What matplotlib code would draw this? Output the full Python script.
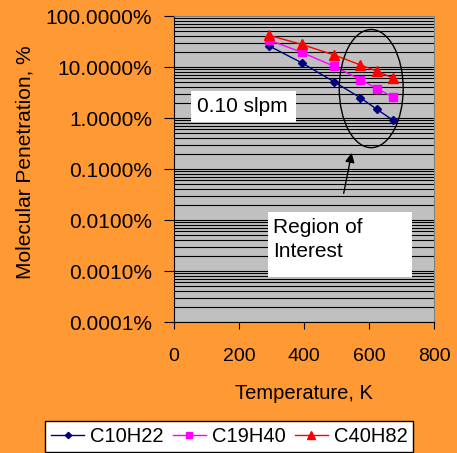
import matplotlib

matplotlib.use("Agg")
from matplotlib import pyplot as plt
from matplotlib.patches import Ellipse, Rectangle
from matplotlib.ticker import FuncFormatter, LogLocator, NullFormatter

plt.rcParams["font.family"] = ["Liberation Sans", "DejaVu Sans"]

# temperatures (K) and penetration (%)
temperature = [293, 393, 493, 573, 623, 673]
c10h22 = [25.8, 12.1, 5.1, 2.5, 1.5, 0.91]
c19h40 = [33.8, 19.4, 10.3, 5.7, 3.8, 2.6]
c40h82 = [41.8, 27.8, 17.2, 11.0, 8.4, 6.1]

series = [
    ("C10H22", c10h22, "#000080", "D", 4),
    ("C19H40", c19h40, "#FF00FF", "s", 6),
    ("C40H82", c40h82, "#FF0000", "^", 7),
]

orange = "#FF9933"
fig = plt.figure(figsize=(4.57, 4.53), dpi=100, facecolor=orange)
ax = fig.add_axes([0.381, 0.289, 0.569, 0.6755], facecolor="#C0C0C0")

for name, values, color, marker, size in series:
    ax.plot(
        temperature,
        [v / 100 for v in values],
        color=color,
        marker=marker,
        markersize=size,
        linewidth=1,
        label=name,
    )

ax.set_yscale("log")
ax.set_ylim(1e-6, 1)
ax.set_xlim(0, 800)
ax.set_xticks([0, 200, 400, 600, 800])
ax.yaxis.set_major_locator(LogLocator(base=10, numticks=10))
ax.yaxis.set_minor_locator(LogLocator(base=10, subs=range(2, 10), numticks=100))
ax.yaxis.set_minor_formatter(NullFormatter())
ax.yaxis.set_major_formatter(FuncFormatter(lambda v, _: f"{v * 100:.4f}%"))
ax.grid(axis="y", which="both", color="black", linewidth=0.8)
ax.set_axisbelow(True)

ax.tick_params(axis="y", which="major", direction="out", length=7, pad=9, labelsize=15)
ax.tick_params(axis="y", which="minor", length=0)
ax.tick_params(axis="x", direction="out", length=5, pad=14, labelsize=14)
for side in ["top", "right"]:
    ax.spines[side].set_color("#808080")

ax.set_xlabel("Temperature, K", fontsize=14.5, labelpad=13)
fig.text(0.055, 0.642, "Molecular Penetration, %", rotation=90,
         ha="center", va="center", fontsize=15)

# white label boxes
ax.add_patch(Rectangle((0.065, 0.654), 0.404, 0.101, transform=ax.transAxes,
                       facecolor="white", edgecolor="none", zorder=3))
ax.text(0.088, 0.704, "0.10 slpm", transform=ax.transAxes, fontsize=15,
        va="center", ha="left", zorder=4)
ax.add_patch(Rectangle((0.3615, 0.147), 0.554, 0.212, transform=ax.transAxes,
                       facecolor="white", edgecolor="none", zorder=3))
ax.text(0.381, 0.270, "Region of\nInterest", transform=ax.transAxes, fontsize=15,
        va="center", ha="left", linespacing=1.3, zorder=4)

ax.add_patch(Ellipse((0.758, 0.763), 0.246, 0.386, transform=ax.transAxes,
                     fill=False, edgecolor="black", linewidth=1, zorder=4))
ax.annotate("", xy=(0.685, 0.562), xytext=(0.650, 0.412),
            xycoords="axes fraction", textcoords="axes fraction",
            arrowprops=dict(arrowstyle="-|>", color="black", lw=1, mutation_scale=14),
            zorder=4)

leg = fig.legend(loc="upper center", bbox_to_anchor=(0.502, 0.0706), ncol=3,
                 fontsize=14.5, frameon=True, fancybox=False, handlelength=1.6,
                 handletextpad=0.3, columnspacing=0.5, borderaxespad=0,
                 borderpad=0.3, markerscale=0.8)
leg.get_frame().set_edgecolor("black")
leg.get_frame().set_facecolor("white")
leg.get_frame().set_alpha(1)

fig.savefig("out.png", dpi=100, facecolor=orange)
